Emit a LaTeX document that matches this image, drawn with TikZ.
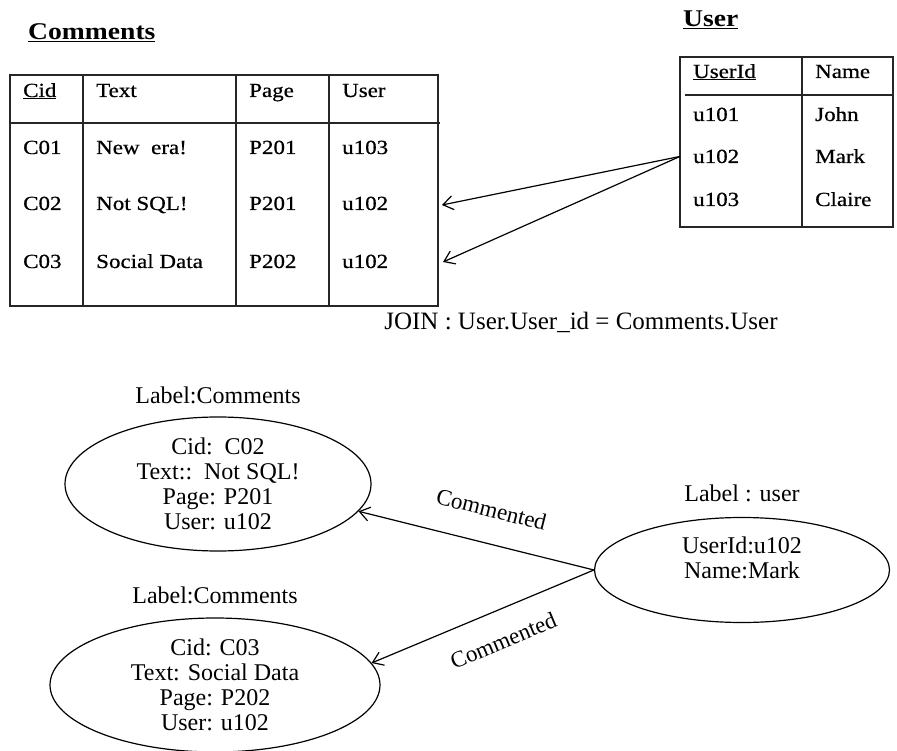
\documentclass[tikz,border=0pt]{standalone}
\usepackage{fontspec}
\setmainfont{Liberation Serif}
\newfontfamily\tabfont[FakeStretch=1.15,FakeBold=0.6]{Liberation Serif}
\newfontfamily\headfont[FakeStretch=1.15]{Liberation Serif}
\usetikzlibrary{arrows.meta, positioning, shapes.geometric}

\begin{document}
\begin{tikzpicture}[
      x=1pt, y=-1pt, >={Straight Barb[length=10pt,width=14pt]},
      grid/.style={line width=1.6pt, black!85},
      cell/.style={anchor=base west, inner xsep=13pt, font=\tabfont\fontsize{20}{22}\selectfont},
      title/.style={anchor=base west, inner sep=0pt, font=\headfont\fontsize{24}{26}\selectfont\bfseries},
      entity/.style={ellipse, draw, line width=1.2pt, inner sep=0pt, align=center, font=\fontsize{24}{25}\selectfont},
      tag/.style={font=\fontsize{24}{25}\selectfont},
      rel/.style={font=\fontsize{23}{25}\selectfont, sloped}
      ]
      \useasboundingbox (0,0) rectangle (897,751);

      % Comments table
      \node[title] (t_comments) at (28,40) {\underline{Comments}};
      \draw[grid] (10,75) rectangle (438,306);
      \draw[grid] (10,123) -- (440,123);
      \foreach \x in {83,236,329} \draw[grid] (\x,75) -- (\x,306);
      \node[cell] (h_cid)  at (10,97)  {\underline{Cid}};
      \node[cell] (h_text) at (83,97)  {Text};
      \node[cell] (h_page) at (236,97) {Page};
      \node[cell] (h_user) at (329,97) {User};
      \foreach \y/\cid/\txt/\pg/\usr in {154/C01/New~~era!/P201/u103, 210/C02/Not SQL!/P201/u102, 268/C03/Social Data/P202/u102} {
        \node[cell] (\cid_cid)  at (10,\y)  {\cid};
        \node[cell] (\cid_text) at (83,\y)  {\txt};
        \node[cell] (\cid_page) at (236,\y) {\pg};
        \node[cell] (\cid_user) at (329,\y) {\usr};
      }
      \coordinate (C02_end) at (442,205);
      \coordinate (C03_end) at (443,262);

      % User table
      \node[title] (t_user) at (683,27) {\underline{User}};
      \draw[grid] (680,57) rectangle (893,227);
      \draw[grid] (685,95) -- (893,95);
      \draw[grid] (802,57) -- (802,227);
      \node[cell] (h_userid) at (680,78)  {\underline{UserId}};
      \node[cell] (h_name)   at (802,78)  {Name};
      \foreach \y/\uid/\nm in {121/u101/John, 163/u102/Mark, 206/u103/Claire} {
        \node[cell] (\uid) at (680,\y) {\uid};
        \node[cell] (\uid_name) at (802,\y) {\nm};
      }
      \draw[->, line width=1.2pt] (u102.west) -- (C02_end);
      \draw[->, line width=1.2pt] (u102.west) -- (C03_end);

      \node[font=\fontsize{25}{27}\selectfont] (join) at (581,322) {JOIN : User.User\_id = Comments.User};

      % graph version
      \node[entity, minimum width=306pt, minimum height=134pt] (c02) at (218,484) {Cid:~~C02\\Text::~~Not SQL!\\Page: P201\\User: u102};
      \node[entity, minimum width=330pt, minimum height=134pt] (c03) at (215,685) {Cid: C03\\Text: Social Data\\Page: P202\\User: u102};
      \node[entity, minimum width=295pt, minimum height=105pt] (mark) at (742,570) {UserId:u102\\Name:Mark\\~};
      \node[tag, above=9pt of c02]  (l_c02)  {Label:Comments};
      \node[tag, above=10pt of c03] (l_c03)  {Label:Comments};
      \node[tag, above=12pt of mark] (l_mark) {Label : user};
      \draw[->, line width=1.2pt] (mark.west) -- node[rel, pos=0.47, above=22pt] {Commented} (c02.-11);
      \draw[->, line width=1.2pt] (mark.west) -- node[rel, pos=0.46, below=18pt] {Commented} (c03.8);
\end{tikzpicture}
\end{document}
